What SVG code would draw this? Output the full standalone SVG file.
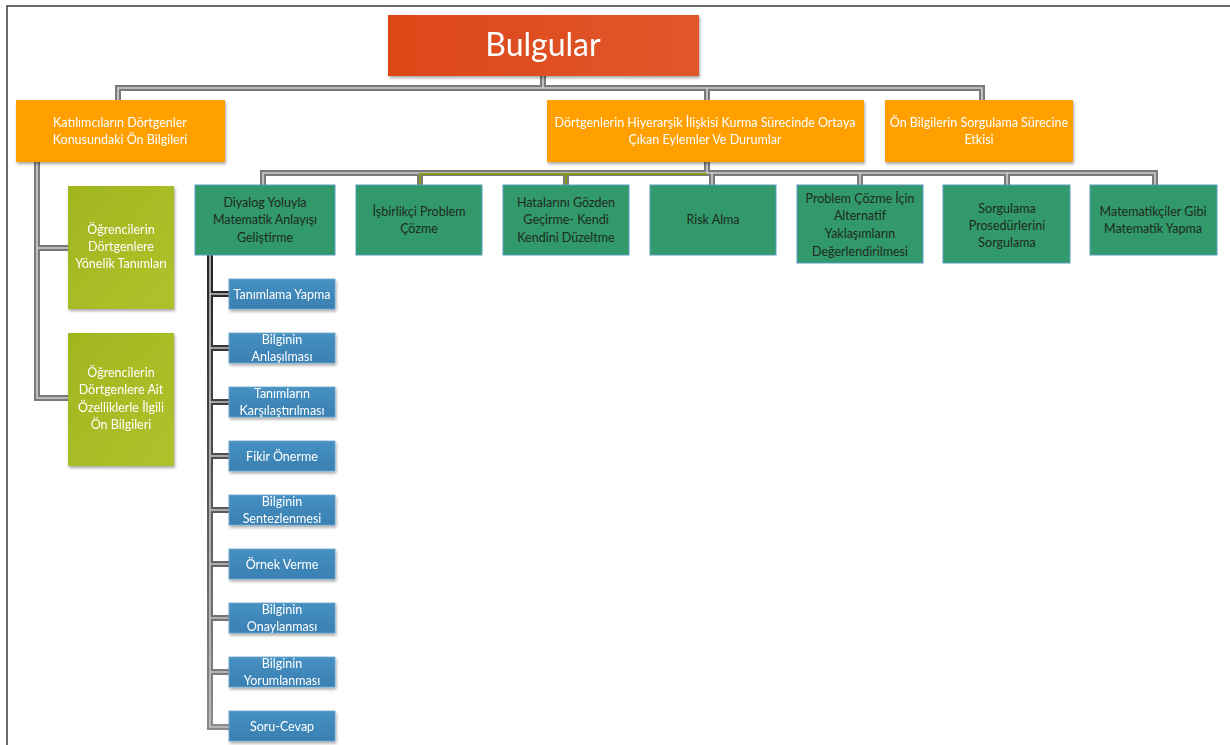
<svg xmlns="http://www.w3.org/2000/svg" width="1230" height="745" viewBox="0 0 1230 745">
<defs>
<style>
.t{font-family:Lato,"Open Sans","Liberation Sans",sans-serif;font-size:12.5px;text-anchor:middle}
.w{fill:#ffffff}
.d{fill:#1f2a22}
.or{fill:#ffa000}
.li{fill:url(#gLime)}
.te{fill:#31996a;stroke:#5a9cc0;stroke-width:1}
.bl{fill:url(#gBlue);stroke:#6aa8d0;stroke-width:0.8}
.po{fill:none;stroke:#7a7a7a;stroke-width:6}
.pi{fill:none;stroke:#d0d0d0;stroke-width:1.6}
.ol{fill:none;stroke:#8b9a1a;stroke-width:2}
</style>
<linearGradient id="gRed" x1="0" y1="0" x2="1" y2="0"><stop offset="0" stop-color="#dd4718"/><stop offset="1" stop-color="#e0572c"/></linearGradient>
<linearGradient id="gLime" x1="0" y1="0" x2="1" y2="1"><stop offset="0" stop-color="#a0b61e"/><stop offset="1" stop-color="#b0c22c"/></linearGradient>
<linearGradient id="gBlue" x1="0" y1="0" x2="0" y2="1"><stop offset="0" stop-color="#4690c2"/><stop offset="1" stop-color="#3a80b2"/></linearGradient>
<linearGradient id="gDark" x1="0" y1="0" x2="0" y2="1"><stop offset="0" stop-color="#222"/><stop offset="1" stop-color="#8a8a8a"/></linearGradient>
<filter id="sh" x="-10%" y="-10%" width="130%" height="140%"><feDropShadow dx="1" dy="2" stdDeviation="1.5" flood-color="#000" flood-opacity="0.35"/></filter>
<path id="c1" d="M543,76 V88 M118,100 V88 H982 V100 M707,88 V100"/>
<path id="c2" d="M37,162 V398 H68 M37,248 H68"/>
<path id="c3" d="M707,162 V173 M263,185 V173 H1155 V185 M420,173 V185 M566,173 V185 M712,173 V185 M860,173 V185 M1007,173 V185"/>
<path id="c4" d="M210,255 V727 H229 M210,294 H229 M210,348 H229 M210,402 H229 M210,456 H229 M210,510 H229 M210,564 H229 M210,618 H229 M210,672 H229"/>
</defs>
<rect x="0" y="0" width="1230" height="745" fill="#ffffff"/>
<path d="M7,745 V6 H1230" fill="none" stroke="#3a3a3a" stroke-width="1.5"/>

<g id="connectors">
<use href="#c1" class="po"/><use href="#c1" class="pi"/>
<use href="#c2" class="po"/><use href="#c2" class="pi"/>
<use href="#c3" class="po"/><use href="#c3" class="pi"/>
<path class="ol" d="M420,185 V174 H707 M566,174 V185"/>
<use href="#c4" class="po" style="stroke:url(#gDark)"/><use href="#c4" class="pi" style="stroke:#c4c4c4"/>
</g>

<g id="n-bulgular" filter="url(#sh)">
<rect x="388" y="15" width="311" height="61" fill="url(#gRed)"/>
<text x="543" y="56" style="font-family:Lato,'Open Sans','Liberation Sans',sans-serif;font-size:32px;text-anchor:middle" class="w">Bulgular</text>
</g>

<g id="n-katilimci" filter="url(#sh)">
<rect x="16" y="100" width="209" height="62" class="or"/>
<text class="t w" x="120" y="127">Katılımcıların Dörtgenler</text>
<text class="t w" x="120" y="144">Konusundaki Ön Bilgileri</text>
</g>
<g id="n-dortgenlerin" filter="url(#sh)">
<rect x="547" y="100" width="317" height="62" class="or"/>
<text class="t w" x="705" y="127">Dörtgenlerin Hiyerarşik İlişkisi Kurma Sürecinde Ortaya</text>
<text class="t w" x="705" y="144">Çıkan Eylemler Ve Durumlar</text>
</g>
<g id="n-onbilgi" filter="url(#sh)">
<rect x="885" y="100" width="188" height="62" class="or"/>
<text class="t w" x="979" y="127">Ön Bilgilerin Sorgulama Sürecine</text>
<text class="t w" x="979" y="144">Etkisi</text>
</g>

<g id="n-tanim" filter="url(#sh)">
<rect x="68" y="186" width="106" height="123" class="li"/>
<text class="t w" x="121" y="234">Öğrencilerin</text>
<text class="t w" x="121" y="251">Dörtgenlere</text>
<text class="t w" x="121" y="268">Yönelik Tanımları</text>
</g>
<g id="n-ozellik" filter="url(#sh)">
<rect x="68" y="333" width="106" height="133" class="li"/>
<text class="t w" x="121" y="377">Öğrencilerin</text>
<text class="t w" x="121" y="394">Dörtgenlere Ait</text>
<text class="t w" x="121" y="412">Özelliklerle İlgili</text>
<text class="t w" x="121" y="429">Ön Bilgileri</text>
</g>

<g id="n-diyalog">
<rect x="195" y="185" width="140" height="70" class="te"/>
<text class="t d" x="265" y="207">Diyalog Yoluyla</text>
<text class="t d" x="265" y="224">Matematik Anlayışı</text>
<text class="t d" x="265" y="242">Geliştirme</text>
</g>
<g id="n-isbirlik">
<rect x="356" y="185" width="126" height="70" class="te"/>
<text class="t d" x="419" y="216">İşbirlikçi Problem</text>
<text class="t d" x="419" y="233">Çözme</text>
</g>
<g id="n-hata">
<rect x="503" y="185" width="126" height="70" class="te"/>
<text class="t d" x="566" y="207">Hatalarını Gözden</text>
<text class="t d" x="566" y="224">Geçirme- Kendi</text>
<text class="t d" x="566" y="242">Kendini Düzeltme</text>
</g>
<g id="n-risk">
<rect x="650" y="185" width="126" height="70" class="te"/>
<text class="t d" x="713" y="224">Risk Alma</text>
</g>
<g id="n-problem">
<rect x="797" y="185" width="126" height="78" class="te"/>
<text class="t d" x="860" y="203">Problem Çözme İçin</text>
<text class="t d" x="860" y="220">Alternatif</text>
<text class="t d" x="860" y="238">Yaklaşımların</text>
<text class="t d" x="860" y="256">Değerlendirilmesi</text>
</g>
<g id="n-sorgulama">
<rect x="943" y="185" width="127" height="78" class="te"/>
<text class="t d" x="1007" y="213">Sorgulama</text>
<text class="t d" x="1007" y="230">Prosedürlerini</text>
<text class="t d" x="1007" y="247">Sorgulama</text>
</g>
<g id="n-matematikci">
<rect x="1090" y="185" width="127" height="70" class="te"/>
<text class="t d" x="1153" y="216">Matematikçiler Gibi</text>
<text class="t d" x="1153" y="233">Matematik Yapma</text>
</g>

<g id="n-b1" filter="url(#sh)"><rect x="229" y="279" width="106" height="30" class="bl"/><text class="t w" x="282" y="299">Tanımlama Yapma</text></g>
<g id="n-b2" filter="url(#sh)"><rect x="229" y="333" width="106" height="30" class="bl"/><text class="t w" x="282" y="344">Bilginin</text><text class="t w" x="282" y="361">Anlaşılması</text></g>
<g id="n-b3" filter="url(#sh)"><rect x="229" y="387" width="106" height="30" class="bl"/><text class="t w" x="282" y="398">Tanımların</text><text class="t w" x="282" y="415">Karşılaştırılması</text></g>
<g id="n-b4" filter="url(#sh)"><rect x="229" y="441" width="106" height="30" class="bl"/><text class="t w" x="282" y="461">Fikir Önerme</text></g>
<g id="n-b5" filter="url(#sh)"><rect x="229" y="495" width="106" height="30" class="bl"/><text class="t w" x="282" y="506">Bilginin</text><text class="t w" x="282" y="523">Sentezlenmesi</text></g>
<g id="n-b6" filter="url(#sh)"><rect x="229" y="549" width="106" height="30" class="bl"/><text class="t w" x="282" y="569">Örnek Verme</text></g>
<g id="n-b7" filter="url(#sh)"><rect x="229" y="603" width="106" height="30" class="bl"/><text class="t w" x="282" y="614">Bilginin</text><text class="t w" x="282" y="631">Onaylanması</text></g>
<g id="n-b8" filter="url(#sh)"><rect x="229" y="657" width="106" height="30" class="bl"/><text class="t w" x="282" y="668">Bilginin</text><text class="t w" x="282" y="685">Yorumlanması</text></g>
<g id="n-b9" filter="url(#sh)"><rect x="229" y="711" width="106" height="30" class="bl"/><text class="t w" x="282" y="731">Soru-Cevap</text></g>
</svg>
